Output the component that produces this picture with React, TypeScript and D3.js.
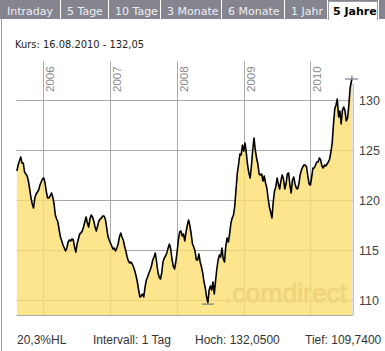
import React from 'react';
import * as d3 from 'd3';

const ersteWoche = new Date(2005, 7, 12);
const wochenKurse = [
  122.9, 123.5, 123.9, 124.3, 123.7, 123.7, 122.8, 122.6, 122.4, 121.9,
  121.1, 120.2, 119.6, 119.2, 120.2, 120.6, 120.8, 121.0, 121.5, 121.8,
  122.1, 122.2, 121.7, 120.8, 120.2, 120.2, 120.4, 120.7, 120.3, 119.6,
  118.5, 118.1, 117.8, 117.0, 116.3, 115.9, 115.5, 115.2, 114.9, 115.2,
  115.8, 116.0, 115.9, 116.1, 116.0, 115.3, 114.8, 115.6, 116.1, 116.6,
  116.7, 116.9, 117.3, 117.8, 118.3, 117.7, 117.3, 118.1, 118.5, 118.3,
  117.9, 117.3, 116.9, 117.4, 117.9, 118.1, 118.2, 118.4, 118.4, 118.1,
  117.3, 116.4, 116.0, 115.7, 115.4, 115.1, 115.2, 114.9, 115.2, 115.6,
  116.3, 116.7, 116.3, 116.0, 115.4, 114.9, 114.3, 113.9, 113.7, 113.8,
  113.6, 113.3, 112.9, 112.4, 111.8, 111.0, 110.3, 110.4, 110.6, 110.3,
  111.3, 112.0, 112.3, 112.7, 113.0, 113.4, 114.0, 114.3, 114.7, 113.8,
  112.8, 112.3, 112.1, 112.7, 113.8, 114.2, 114.4, 114.7, 115.2, 115.6,
  115.1, 114.1, 113.4, 113.1, 113.8, 114.8, 116.0, 116.8, 116.9, 116.4,
  116.6, 115.9, 116.8, 117.5, 118.0, 117.4, 116.6, 115.6, 115.3, 114.9,
  114.0, 114.0, 114.6, 113.8, 113.3, 112.7, 111.8, 111.2, 110.3, 109.74,
  111.0, 111.4, 111.0, 111.8, 110.6, 111.9, 113.1, 114.0, 114.5, 114.3,
  115.2, 114.1, 113.8, 115.4, 116.2, 115.8, 116.6, 117.7, 118.2, 118.5,
  119.4, 121.1, 122.7, 123.6, 124.6, 124.5, 125.5, 124.9, 125.7, 124.7,
  123.5, 122.7, 122.2, 123.4, 125.0, 126.2, 125.0, 124.2, 123.6, 122.6,
  122.5, 122.6, 121.9, 122.4, 121.7, 121.2, 120.2, 119.3, 118.8, 118.2,
  119.8, 120.9, 121.3, 122.2, 121.6, 121.1, 121.9, 122.5, 122.1, 121.1,
  121.6, 122.6, 122.7, 121.5, 120.7, 122.0, 122.3, 121.6, 121.2, 121.1,
  121.6, 122.5, 123.0, 123.3, 123.5, 123.5, 123.3, 122.4, 121.6, 121.5,
  122.3, 123.2, 123.2, 123.5, 123.8, 123.8, 124.2, 124.0, 123.4, 123.2,
  123.5, 123.4, 123.6, 123.8, 124.1, 124.8, 125.7, 127.6, 129.1, 129.5,
  130.1, 128.3, 128.9, 127.6, 129.0, 129.3, 128.9, 127.9, 128.2, 129.5,
  131.2, 131.9,
];
const letzterTag = new Date(2010, 7, 16);
const letzterKurs = 132.05;

const jahre = [2006, 2007, 2008, 2009, 2010];
const kursTicks = [110, 115, 120, 125, 130];

const tabs = ["Intraday", "5 Tage", "10 Tage", "3 Monate", "6 Monate", "1 Jahr", "5 Jahre"];
const aktiverTab = "5 Jahre";
const kopfText = "Kurs: 16.08.2010 - 132,05";
const fussTexte = ["20,3%HL", "Intervall: 1 Tag", "Hoch: 132,0500", "Tief: 109,7400"];

// layout
const W = 385, H = 351;
const plot = { left: 16.5, right: 352.7, top: 61, bottom: 315 };
const tabKanten = [0, 60, 108, 160, 221, 284, 327, 378];
const fussX = [17, 93, 195, 305];

export default function App() {
  const daten = wochenKurse.map((v, i) => ({ d: d3.timeDay.offset(ersteWoche, 7 * i), v }));
  daten.push({ d: letzterTag, v: letzterKurs });

  const x = d3.scaleTime()
    .domain([new Date(2005, 7, 10), new Date(2010, 7, 20)])
    .range([plot.left, plot.right]);
  const y = d3.scaleLinear().domain([108.5, 133.9]).range([plot.bottom, plot.top]);

  const linie = d3.line<{ d: Date; v: number }>().x(p => x(p.d)).y(p => y(p.v));
  const flaeche = d3.area<{ d: Date; v: number }>().x(p => x(p.d)).y0(plot.bottom).y1(p => y(p.v));

  const maxP = daten.reduce((a, b) => (b.v > a.v ? b : a));
  const minP = daten.reduce((a, b) => (b.v < a.v ? b : a));

  return (
    <svg width={W} height={H} style={{ position: 'absolute', left: 0, top: 0, background: '#fff' }}>
      {/* tab bar */}
      <rect x={0} y={0} width={W} height={19} fill="#85858f" />
      {tabKanten.slice(1).map(k => (
        <line key={k} x1={k + 0.5} x2={k + 0.5} y1={0} y2={19} stroke="#fff" />
      ))}
      {tabs.map((t, i) => {
        const aktiv = t === aktiverTab;
        const x0 = tabKanten[i];
        const x1 = tabKanten[i + 1];
        return (
          <g key={t}>
            {aktiv && (
              <path d={`M${x0 + 1.5},20 V1.5 H${x1 - 0.5} V20`} fill="#fff" stroke="#9a9aa2" />
            )}
            <text x={x0 + (aktiv ? 6 : 7)} y={15} fontFamily="DejaVu Sans, Verdana, sans-serif"
              fontSize={11} fontWeight={aktiv ? 'bold' : 'normal'} fill={aktiv ? '#000' : '#eeeef2'}>
              {t}
            </text>
          </g>
        );
      })}
      <line x1={1.5} x2={1.5} y1={19} y2={H} stroke="#999" />

      <text x={15} y={48} fontFamily="DejaVu Sans Condensed, DejaVu Sans, sans-serif" fontSize={11} fill="#222">{kopfText}</text>

      {/* grid */}
      {kursTicks.map(t => (
        <line key={t} x1={plot.left} x2={plot.right} y1={Math.round(y(t)) + 0.5} y2={Math.round(y(t)) + 0.5} stroke="#aaa" />
      ))}
      {jahre.map(j => {
        const gx = Math.round(x(new Date(j, 0, 1))) + 0.5;
        return (
          <g key={j}>
            <line x1={gx} x2={gx} y1={plot.top} y2={plot.bottom} stroke="#aaa" />
            <text transform={`translate(${gx + 10.5},92) rotate(-90)`} fontFamily="Liberation Sans, Arial, sans-serif"
              fontSize={11.5} fill="#888">{j}</text>
          </g>
        );
      })}
      <line x1={plot.left} x2={plot.right + 0.5} y1={plot.bottom + 0.5} y2={plot.bottom + 0.5} stroke="#aaa" />
      <line x1={plot.right + 0.5} x2={plot.right + 0.5} y1={y(maxP.v) + 4} y2={plot.bottom} stroke="#aaa" />

      {/* series */}
      <path d={flaeche(daten) ?? ''} fill="#fcdf70" fillOpacity={0.8} />
      <text x={225} y={302} fontFamily="Liberation Sans, Arial, sans-serif" fontSize={26.5}
        fill="#efd47c" stroke="#efd47c" strokeWidth={0.9}>.comdirect</text>
      <path d={linie(daten) ?? ''} fill="none" stroke="#000" strokeWidth={1.6} strokeLinejoin="round" />

      {/* high / low markers */}
      <line x1={x(maxP.d) - 7} x2={x(maxP.d) + 6} y1={y(maxP.v) - 0.5} y2={y(maxP.v) - 0.5} stroke="#5c6475" />
      <line x1={x(maxP.d)} x2={x(maxP.d)} y1={y(maxP.v) - 4} y2={y(maxP.v)} stroke="#5c6475" />
      <line x1={x(minP.d) - 6} x2={x(minP.d) + 6} y1={y(minP.v) + 1.5} y2={y(minP.v) + 1.5} stroke="#5c6475" />

      {kursTicks.map(t => (
        <text key={t} x={359} y={y(t)} dy="0.36em" fontFamily="Liberation Sans, Arial, sans-serif" fontSize={12.5} fill="#444">{t}</text>
      ))}

      {fussTexte.map((t, i) => (
        <text key={t} x={fussX[i]} y={344} fontFamily="Liberation Sans, Arial, sans-serif" fontSize={12} fill="#333">{t}</text>
      ))}
    </svg>
  );
}
